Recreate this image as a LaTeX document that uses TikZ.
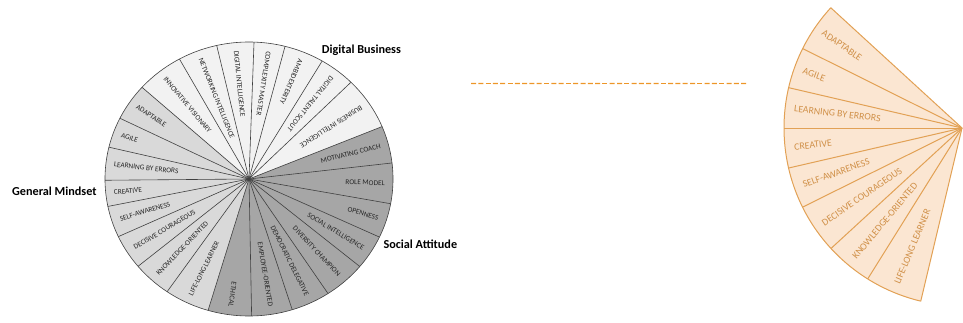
\documentclass[tikz,border=0pt]{standalone}
\usepackage{fontspec}
\usetikzlibrary{calc}
\setmainfont{Carlito}
\definecolor{db}{HTML}{F2F2F2}
\definecolor{gm}{HTML}{D9D9D9}
\definecolor{sa}{HTML}{A6A6A6}
\definecolor{lineg}{HTML}{404040}
\definecolor{labg}{HTML}{262626}
\definecolor{fanfill}{HTML}{FBE6D2}
\definecolor{fanline}{HTML}{E2A155}
\definecolor{fantext}{HTML}{D09048}
\definecolor{dashorange}{RGB}{237,150,40}
\begin{document}
\begin{tikzpicture}[x=1pt,y=1pt,
  wl/.style={draw=lineg, line width=0.6pt},
  lab/.style={font=\fontsize{7.3}{8}\selectfont, text=labg, inner sep=0pt},
  ttl/.style={font=\fontsize{12.2}{14}\selectfont\bfseries, text=black, inner sep=0pt, anchor=west},
  fl/.style={draw=fanline, line width=1pt},
  flab/.style={font=\fontsize{9.8}{11}\selectfont, text=fantext, inner sep=0pt},
  dashline/.style={draw=dashorange, line width=1.3pt}
]
\useasboundingbox (0,0) rectangle (963,322);
% ---------- wheel ----------
\coordinate (C) at (249,143);
\begin{scope}
\clip (C) ellipse [x radius=144, y radius=137];
\fill[db] (C) -- ++(21.5:300) arc[start angle=21.5, end angle=139.4, radius=300] -- cycle;
\fill[gm] (C) -- ++(139.4:300) arc[start angle=139.4, end angle=252.7, radius=300] -- cycle;
\fill[sa] (C) -- ++(-107.3:300) arc[start angle=-107.3, end angle=21.5, radius=300] -- cycle;
\foreach \a in {21.5,43.5,58.2,74.8,87.9,103.6,120.1,139.4,154.8,167.2,180.5,191,203.8,218.2,234,252.7,-88.9,-71.7,-55.4,-38.3,-24,-9.9,6.4}
  \draw[wl] (C) -- ++(\a:300);
\end{scope}
\draw[wl] (C) ellipse [x radius=144, y radius=137];
% labels reading inward (General Mindset, Digital Business)
\foreach \a/\t/\n in {147.1/ADAPTABLE/g1, 161/AGILE/g2, 173.85/LEARNING BY ERRORS/g3, 185.75/CREATIVE/g4,
  197.4/SELF-AWARENESS/g5, 211/DECISIVE COURAGEOUS/g6, 226.1/KNOWLEDGE-ORIENTED/g7, 243.35/LIFE-LONG LEARNER/g8,
  129.75/INNOVATIVE VISIONARY/d1, 111.85/NETWORKING INTELLIGENCE/d2, 95.75/DIGITAL INTELLIGENCE/d3,
  81.35/COMPLEXITY MASTER/d4, 66.5/AMBIDEXTERITY/d5, 50.85/DIGITAL TALENT SCOUT/d6, 32.5/BUSINESS INTELLIGENCE/d7}{
  \pgfmathsetmacro{\rr}{100*1.44*1.37/sqrt((1.37*cos(\a))^2+(1.44*sin(\a))^2)-8}
  \path (C) ++(\a:\rr) node[lab, anchor=west, rotate=\a+180] (\n) {\t};
}
% labels reading outward (Social Attitude)
\foreach \a/\t/\n in {13.95/MOTIVATING COACH/s1, -1.75/ROLE MODEL/s2, -16.95/OPENNESS/s3, -31.15/SOCIAL INTELLIGENCE/s4,
  -46.85/DIVERSITY CHAMPION/s5, -63.55/DEMOCRATIC DELEGATIVE/s6, -80.3/EMPLOYEE-ORIENTED/s7, -98.1/ETHICAL/s8}{
  \pgfmathsetmacro{\rr}{100*1.44*1.37/sqrt((1.37*cos(\a))^2+(1.44*sin(\a))^2)-8}
  \path (C) ++(\a:\rr) node[lab, anchor=east, rotate=\a] (\n) {\t};
}
\node[ttl] (tgm) at (12,130.3) {General Mindset};
\node[ttl] (tdb) at (321.7,271.3) {Digital Business};
\node[ttl] (tsa) at (383.3,78) {Social Attitude};
% ---------- dashed line (drawn as dash segments from dl towards dr) ----------
\coordinate (dl) at (471,238.5);
\coordinate (dr) at (747,238.5);
\foreach \i in {0,...,37}
  \draw[dashline] ($(dl)!{\i*7.3/276}!(dr)$) -- ($(dl)!{(\i*7.3+5)/276}!(dr)$);
% ---------- fan ----------
\coordinate (F) at (962,194);
\fill[fanfill] (F) -- ++(137.5:178) arc[start angle=137.5, end angle=256.6, radius=178] -- cycle;
\foreach \a in {137.5,153.5,166.9,180,193,206.4,222.6,238,256.6}
  \draw[fl] (F) -- ++(\a:178);
\draw[fl] (F) ++(137.5:178) arc[start angle=137.5, end angle=256.6, radius=178];
\foreach \a/\t/\n in {145.5/ADAPTABLE/f1, 160.2/AGILE/f2, 173.45/LEARNING BY ERRORS/f3, 186.5/CREATIVE/f4,
  199.7/SELF-AWARENESS/f5, 214.5/DECISIVE COURAGEOUS/f6, 230.3/KNOWLEDGE-ORIENTED/f7, 247.3/LIFE-LONG LEARNER/f8}{
  \path (F) ++(\a:169) node[flab, anchor=west, rotate=\a+180] (\n) {\t};
}
\end{tikzpicture}
\end{document}
